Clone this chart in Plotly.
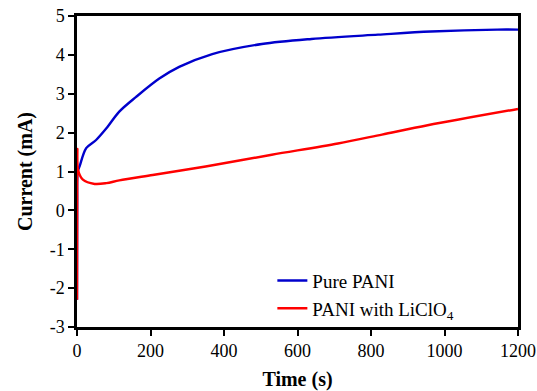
import plotly.graph_objects as go

# Pure PANI
t_pure = [0, 0.5, 2, 7, 25, 52, 80, 115, 161, 224, 278, 368, 503, 638, 819, 963, 1143, 1200]
i_pure = [-2.3, 0.2, 1.0, 1.13, 1.60, 1.81, 2.11, 2.54, 2.92, 3.39, 3.69, 4.02, 4.28, 4.41, 4.52, 4.60, 4.65, 4.65]

# PANI with LiClO4
t_li = [0, 0.5, 1, 3, 16, 48, 80, 115, 206, 350, 530, 710, 830, 954, 1200]
i_li = [-2.3, 0.5, 1.58, 1.04, 0.79, 0.68, 0.70, 0.77, 0.91, 1.13, 1.43, 1.72, 1.95, 2.19, 2.61]

y_ticks = [-3, -2, -1, 0, 1, 2, 3, 4, 5]
y_labels = ["-3", "-2", "-1", "0", "1", "2", "3", "4", "5"]
x_ticks = [0, 200, 400, 600, 800, 1000, 1200]
x_labels = ["0", "200", "400", "600", "800", "1000", "1200"]

font_family = "Liberation Serif"

fig = go.Figure()
fig.add_trace(go.Scatter(x=t_pure, y=i_pure, mode="lines", name="Pure PANI",
                         line=dict(color="#0000CC", width=2.4, shape="spline", smoothing=0.9)))
fig.add_trace(go.Scatter(x=t_li, y=i_li, mode="lines", name="PANI with LiClO<sub>4</sub>",
                         line=dict(color="#FF0000", width=2.4, shape="spline", smoothing=0.9)))

fig.update_layout(
    width=537, height=391,
    margin=dict(l=77, r=19, t=16, b=64),
    paper_bgcolor="white", plot_bgcolor="white",
    font=dict(family=font_family, size=18, color="black"),
    showlegend=True,
    legend=dict(x=0.443, y=0.21, xanchor="left", yanchor="top",
                bgcolor="rgba(0,0,0,0)", font=dict(size=19, family=font_family),
                tracegroupgap=0),
    xaxis=dict(range=[0, 1200], tickvals=x_ticks, ticktext=x_labels, automargin=False,
               showgrid=False, zeroline=False, showline=True, linecolor="black",
               linewidth=2.5, mirror=True, ticks="outside", ticklen=6, tickwidth=2,
               tickcolor="black", tickfont=dict(size=18, family=font_family),
               title=dict(text="<b>Time (s)</b>", font=dict(size=20, family=font_family), standoff=12)),
    yaxis=dict(range=[-3, 5], tickvals=y_ticks, ticktext=y_labels, automargin=False,
               showgrid=False, zeroline=False, showline=True, linecolor="black",
               linewidth=2.5, mirror=True, ticks="outside", ticklen=6, tickwidth=2,
               tickcolor="black", tickfont=dict(size=18, family=font_family),
               title=dict(text="<b>Current (mA)</b>", font=dict(size=20, family=font_family), standoff=12)),
)

fig.write_html("out.html")
